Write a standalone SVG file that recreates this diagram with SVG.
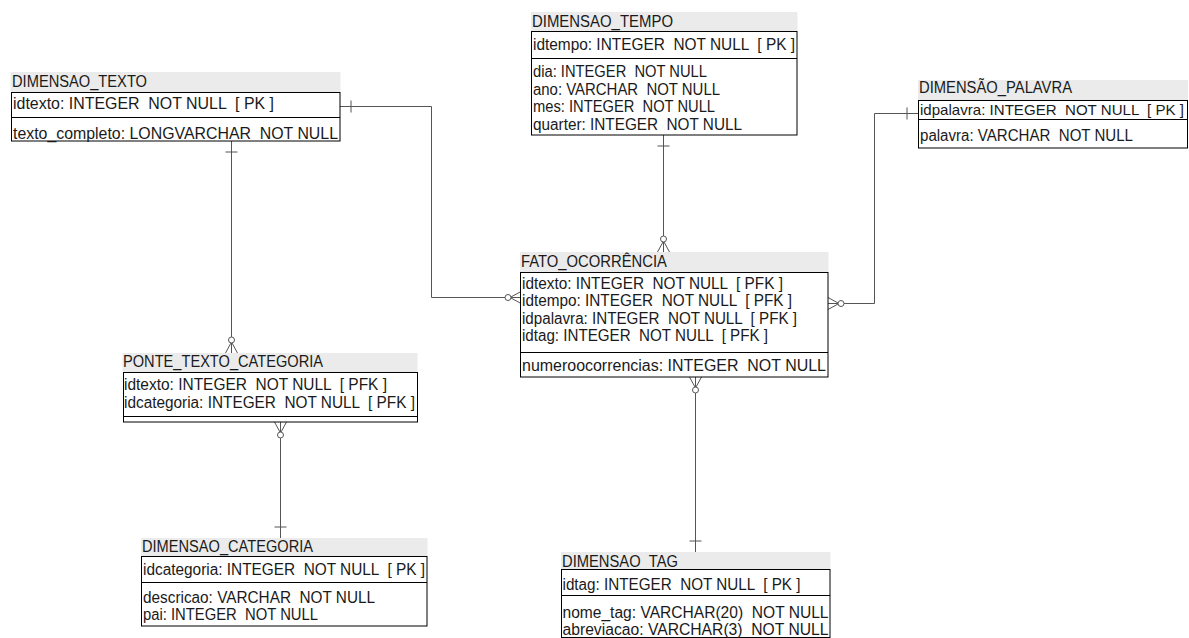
<svg xmlns="http://www.w3.org/2000/svg" xmlns:xlink="http://www.w3.org/1999/xlink" width="1189" height="638" viewBox="0 0 1189 638">
<style>
text{font-family:"Liberation Sans","DejaVu Sans",sans-serif;font-size:16px;fill:#1a1a1a;white-space:pre}
text.sm{font-size:15px}
.band{fill:#ebebeb;stroke:none}
.box{fill:#ffffff;stroke:#000;stroke-width:1}
.div{stroke:#000;stroke-width:1}
.conn{fill:none;stroke:#555;stroke-width:1}
.cf{fill:none;stroke:#555;stroke-width:1}
.cfc{fill:#fff;stroke:#555;stroke-width:1}
</style>
<defs>
<g id="many0">
<path class="cf" d="M-11,0 L0,-6 M-11,0 L0,6"/>
<circle class="cfc" cx="-13" cy="0" r="3"/>
</g>
<g id="one">
<path class="cf" d="M-11,-6 V6"/>
</g>
</defs>
<rect width="1189" height="638" fill="#ffffff"/>

<g id="connectors">
<path class="conn" d="M340,106.5 H431.5 V297.5 H521"/>
<path class="conn" d="M231.5,141 V353"/>
<path class="conn" d="M663.5,135 V252"/>
<path class="conn" d="M918,113.5 H874.5 V303.5 H828"/>
<path class="conn" d="M280.5,422 V538"/>
<path class="conn" d="M695.5,377 V552"/>
<use xlink:href="#one" transform="translate(340,106.5) rotate(180)"/>
<use xlink:href="#one" transform="translate(231.5,141) rotate(-90)"/>
<use xlink:href="#one" transform="translate(663.5,135) rotate(-90)"/>
<use xlink:href="#one" transform="translate(918,113.5)"/>
<use xlink:href="#one" transform="translate(280.5,538) rotate(90)"/>
<use xlink:href="#one" transform="translate(695.5,552) rotate(90)"/>
<use xlink:href="#many0" transform="translate(521,297.5)"/>
<use xlink:href="#many0" transform="translate(828,303.5) rotate(180)"/>
<use xlink:href="#many0" transform="translate(663.5,252) rotate(90)"/>
<use xlink:href="#many0" transform="translate(695.5,377) rotate(-90)"/>
<use xlink:href="#many0" transform="translate(231.5,353) rotate(90)"/>
<use xlink:href="#many0" transform="translate(280.5,422) rotate(-90)"/>
</g>

<g id="dimensao_texto">
<rect class="band" x="10.5" y="72" width="330" height="20"/>
<text x="12" y="87" textLength="135" lengthAdjust="spacingAndGlyphs">DIMENSAO_TEXTO</text>
<rect class="box" x="11.5" y="92.5" width="328.5" height="48.5"/>
<line class="div" x1="11.5" y1="117.5" x2="340" y2="117.5"/>
<text x="13" y="109" textLength="261" lengthAdjust="spacingAndGlyphs">idtexto: INTEGER  NOT NULL  [ PK ]</text>
<text x="13" y="138.5" textLength="325" lengthAdjust="spacingAndGlyphs">texto_completo: LONGVARCHAR  NOT NULL</text>
</g>

<g id="dimensao_tempo">
<rect class="band" x="531" y="12" width="266.5" height="19"/>
<text x="532" y="26.5" textLength="141" lengthAdjust="spacingAndGlyphs">DIMENSAO_TEMPO</text>
<rect class="box" x="531.5" y="31.5" width="265.5" height="103.5"/>
<line class="div" x1="531.5" y1="58.5" x2="797" y2="58.5"/>
<text x="533" y="50" textLength="262" lengthAdjust="spacingAndGlyphs">idtempo: INTEGER  NOT NULL  [ PK ]</text>
<text x="533" y="77" textLength="174" lengthAdjust="spacingAndGlyphs">dia: INTEGER  NOT NULL</text>
<text x="533" y="94.5" textLength="187" lengthAdjust="spacingAndGlyphs">ano: VARCHAR  NOT NULL</text>
<text x="533" y="112" textLength="182" lengthAdjust="spacingAndGlyphs">mes: INTEGER  NOT NULL</text>
<text x="533" y="129.5" textLength="209" lengthAdjust="spacingAndGlyphs">quarter: INTEGER  NOT NULL</text>
</g>

<g id="dimensao_palavra">
<rect class="band" x="918" y="80" width="270" height="20.5"/>
<text x="919" y="92.5" textLength="153" lengthAdjust="spacingAndGlyphs">DIMENSÃO_PALAVRA</text>
<rect class="box" x="918.5" y="100.5" width="269" height="47.5"/>
<line class="div" x1="918.5" y1="119.5" x2="1187.5" y2="119.5"/>
<text class="sm" x="920" y="115" textLength="264" lengthAdjust="spacingAndGlyphs">idpalavra: INTEGER  NOT NULL  [ PK ]</text>
<text x="920" y="141" textLength="213" lengthAdjust="spacingAndGlyphs">palavra: VARCHAR  NOT NULL</text>
</g>

<g id="fato_ocorrencia">
<rect class="band" x="520" y="252" width="308.5" height="20"/>
<text x="521" y="267" textLength="146" lengthAdjust="spacingAndGlyphs">FATO_OCORRÊNCIA</text>
<rect class="box" x="520.5" y="272.5" width="307.5" height="104.5"/>
<line class="div" x1="520.5" y1="352.5" x2="828" y2="352.5"/>
<text x="522" y="288.5" textLength="261" lengthAdjust="spacingAndGlyphs">idtexto: INTEGER  NOT NULL  [ PFK ]</text>
<text x="522" y="306" textLength="270" lengthAdjust="spacingAndGlyphs">idtempo: INTEGER  NOT NULL  [ PFK ]</text>
<text x="522" y="323.5" textLength="275" lengthAdjust="spacingAndGlyphs">idpalavra: INTEGER  NOT NULL  [ PFK ]</text>
<text x="522" y="341" textLength="246" lengthAdjust="spacingAndGlyphs">idtag: INTEGER  NOT NULL  [ PFK ]</text>
<text x="522" y="371" textLength="304" lengthAdjust="spacingAndGlyphs">numeroocorrencias: INTEGER  NOT NULL</text>
</g>

<g id="ponte_texto_categoria">
<rect class="band" x="122.5" y="353" width="295" height="19"/>
<text x="123" y="366.5" textLength="200" lengthAdjust="spacingAndGlyphs">PONTE_TEXTO_CATEGORIA</text>
<rect class="box" x="123.5" y="372.5" width="294" height="49.5"/>
<line class="div" x1="123.5" y1="416.5" x2="417.5" y2="416.5"/>
<text x="124" y="390" textLength="263" lengthAdjust="spacingAndGlyphs">idtexto: INTEGER  NOT NULL  [ PFK ]</text>
<text x="124" y="408" textLength="291" lengthAdjust="spacingAndGlyphs">idcategoria: INTEGER  NOT NULL  [ PFK ]</text>
</g>

<g id="dimensao_categoria">
<rect class="band" x="141" y="538" width="286.5" height="18"/>
<text x="142" y="551.5" textLength="171" lengthAdjust="spacingAndGlyphs">DIMENSAO_CATEGORIA</text>
<rect class="box" x="141.5" y="556.5" width="285.5" height="69.5"/>
<line class="div" x1="141.5" y1="582.5" x2="427" y2="582.5"/>
<text x="143" y="575" textLength="282" lengthAdjust="spacingAndGlyphs">idcategoria: INTEGER  NOT NULL  [ PK ]</text>
<text x="143" y="603" textLength="232" lengthAdjust="spacingAndGlyphs">descricao: VARCHAR  NOT NULL</text>
<text x="143" y="620" textLength="175" lengthAdjust="spacingAndGlyphs">pai: INTEGER  NOT NULL</text>
</g>

<g id="dimensao_tag">
<rect class="band" x="561" y="552" width="269.5" height="17"/>
<text x="562" y="566.5" textLength="116" lengthAdjust="spacingAndGlyphs">DIMENSAO_TAG</text>
<rect class="box" x="561.5" y="569.5" width="268.5" height="68"/>
<line class="div" x1="561.5" y1="595.5" x2="830" y2="595.5"/>
<text x="562.5" y="590" textLength="238" lengthAdjust="spacingAndGlyphs">idtag: INTEGER  NOT NULL  [ PK ]</text>
<text x="562.5" y="618" textLength="266" lengthAdjust="spacingAndGlyphs">nome_tag: VARCHAR(20)  NOT NULL</text>
<text x="562.5" y="635" textLength="266" lengthAdjust="spacingAndGlyphs">abreviacao: VARCHAR(3)  NOT NULL</text>
</g>
</svg>
